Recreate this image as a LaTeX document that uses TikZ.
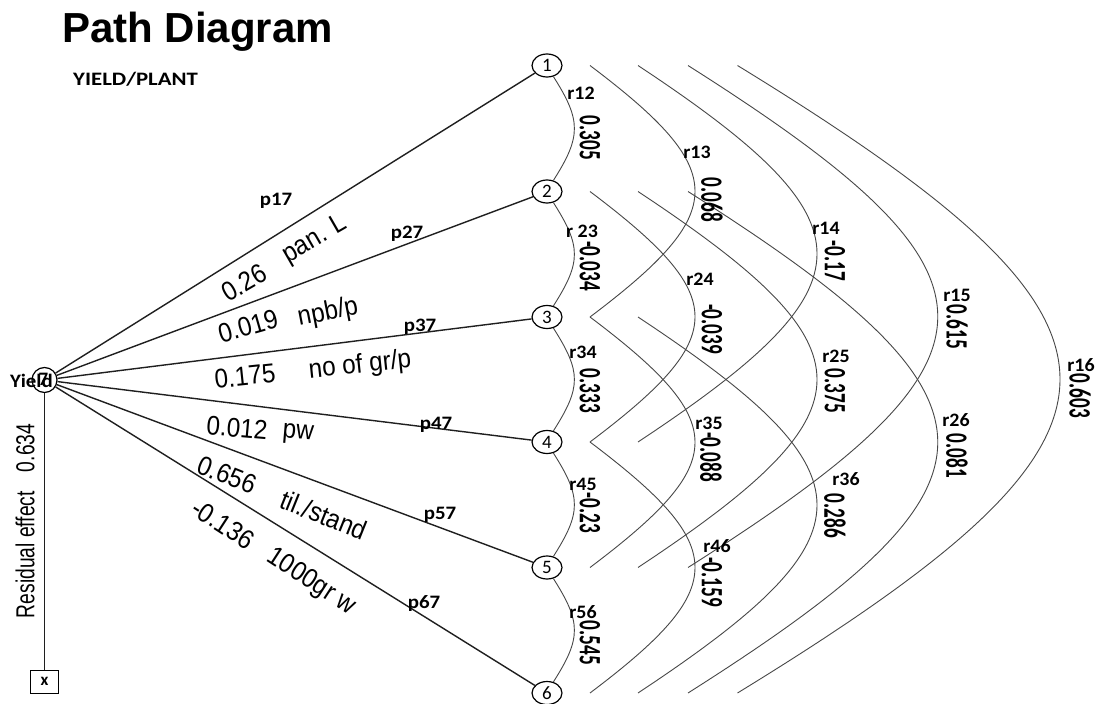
\documentclass[tikz,border=0pt]{standalone}
\usepackage{fontspec}
\usepackage{graphicx}
\setmainfont{Liberation Sans}
\newfontfamily\calfont{Carlito}
\usetikzlibrary{shapes.geometric,calc}
\newcommand{\sbx}[2]{\scalebox{#1}[1]{#2}}
\begin{document}
\begin{tikzpicture}[x=1pt,y=-1pt,
 nd/.style={ellipse, draw, line width=1.2pt, minimum width=30pt, minimum height=23pt, inner sep=0pt, font=\calfont\fontsize{19}{19}\selectfont},
 pathln/.style={line width=1.4pt, black!88},
 corr/.style={line width=0.9pt, black!72},
 el/.style={font=\fontsize{27}{27}\selectfont, inner sep=0pt},
 pl/.style={font=\calfont\bfseries\fontsize{19}{19}\selectfont, inner sep=0pt},
 rl/.style={font=\calfont\bfseries\fontsize{19}{19}\selectfont, inner sep=0pt},
 rv/.style={rotate=-90, font=\calfont\bfseries\fontsize{31}{31}\selectfont, inner sep=0pt},
]
\useasboundingbox[fill=white] (0,0) rectangle (1101,704);

% titles
\node[anchor=base west, inner sep=0pt, font=\bfseries\fontsize{42}{42}\selectfont] (title) at (62,42) {Path Diagram};
\node[anchor=base west, inner sep=0pt, font=\calfont\bfseries\fontsize{19}{19}\selectfont] (sub) at (73,85) {\sbx{1.2}{YIELD/PLANT}};

% variable nodes
\node[nd] (n1) at (547,65.5) {1};
\node[nd] (n2) at (547,191.5) {2};
\node[nd] (n3) at (547,317) {3};
\node[nd] (n4) at (547,442) {4};
\node[nd] (n5) at (547,567.5) {5};
\node[nd] (n6) at (547,693) {6};

% yield node
\node[circle, draw, line width=1.2pt, minimum size=25pt, inner sep=0pt] (n7) at (44.5,380) {};
\node[pl, anchor=base west] (ylab) at (10,387) {\sbx{1.1}{Yield}};
\node[rl] (n7num) at (43.5,379) {7};

% residual box
\node[draw, line width=1pt, minimum width=28pt, minimum height=23pt, inner sep=0pt, font=\calfont\bfseries\fontsize{17}{17}\selectfont] (bx) at (44.5,681.5) {x};
\draw[pathln] (n7) -- (bx);
\node[rotate=90, inner sep=0pt, font=\fontsize{26}{26}\selectfont] (res) at (25,521) {\sbx{0.74}{Residual effect\quad 0.634}};

% path lines
\foreach \k in {1,...,6} { \draw[pathln] (n7) -- (n\k); }

% path labels
\node[pl] (p17) at (276,201) {\sbx{1.1}{p17}};
\node[pl] (p27) at (407,234) {\sbx{1.1}{p27}};
\node[pl] (p37) at (420,327) {\sbx{1.1}{p37}};
\node[pl] (p47) at (436,425) {\sbx{1.1}{p47}};
\node[pl] (p57) at (440,515) {\sbx{1.1}{p57}};
\node[pl] (p67) at (424,604) {\sbx{1.1}{p67}};

\node[el, rotate=30] (v1) at (244,283) {\sbx{0.9}{0.26}};
\node[el, rotate=30] (t1) at (315,240) {\sbx{0.9}{pan. L}};
\node[el, rotate=16] (v2) at (248,326) {\sbx{0.9}{0.019}};
\node[el, rotate=11] (t2) at (328,313) {\sbx{0.9}{npb/p}};
\node[el, rotate=6] (v3) at (245,376) {\sbx{0.9}{0.175}};
\node[el, rotate=6] (t3) at (360,366) {\sbx{0.9}{no of gr/p}};
\node[el, rotate=-5] (v4) at (237,428) {\sbx{0.9}{0.012}};
\node[el, rotate=-5] (t4) at (298,434) {\sbx{0.9}{pw}};
\node[el, rotate=-22] (v5) at (227,475) {\sbx{0.9}{0.656}};
\node[el, rotate=-22] (t5) at (324,515) {\sbx{0.9}{til./stand}};
\node[el, rotate=-33] (v6) at (223,524) {\sbx{0.9}{-0.136}};
\node[el, rotate=-33] (t6) at (311,582) {\sbx{0.9}{1000gr w}};

% arc end coordinates
\foreach \k in {1,...,6} {
  \coordinate (qb\k) at ($(n\k)+(43,0)$);
  \coordinate (qc\k) at ($(n\k)+(91,0)$);
  \coordinate (qd\k) at ($(n\k)+(141,0)$);
  \coordinate (qe\k) at ($(n\k)+(190.5,0)$);
}

% adjacent correlations
\foreach \a/\b in {1/2,2/3,3/4,4/5,5/6} {
  \draw[corr] (n\a.-60) .. controls +(28,44) and +(28,-44) .. (n\b.60);
}
% span 2
\foreach \a/\b in {1/3,2/4,3/5,4/6} {
  \draw[corr] (qb\a) .. controls +(140,105.6) and +(140,-105.6) .. (qb\b);
}
% span 3
\foreach \a/\b in {1/4,2/5,3/6} {
  \draw[corr] (qc\a) .. controls +(238.7,158) and +(238.7,-158) .. (qc\b);
}
% span 4
\foreach \a/\b in {1/5,2/6} {
  \draw[corr] (qd\a) .. controls +(333,211) and +(333,-211) .. (qd\b);
}
% span 5
\draw[corr] (qe1) .. controls +(430,263.5) and +(430,-263.5) .. (qe6);

% correlation labels
\node[rl] (r12) at (581,93) {\sbx{1.05}{r12}};
\node[rv] (c12) at (590,138) {\sbx{0.62}{0.305}};
\node[rl] (r23) at (582,231) {\sbx{1.05}{r 23}};
\node[rv] (c23) at (590,266) {\sbx{0.62}{-0.034}};
\node[rl] (r34) at (583,352) {\sbx{1.05}{r34}};
\node[rv] (c34) at (590,391) {\sbx{0.62}{0.333}};
\node[rl] (r45) at (583,484) {\sbx{1.05}{r45}};
\node[rv] (c45) at (590,513) {\sbx{0.62}{-0.23}};
\node[rl] (r56) at (583,612) {\sbx{1.05}{r56}};
\node[rv] (c56) at (590,643) {\sbx{0.62}{0.545}};

\node[rl] (r13) at (697,152) {\sbx{1.05}{r13}};
\node[rv] (c13) at (712,200) {\sbx{0.62}{0.068}};
\node[rl] (r24) at (700,279) {\sbx{1.05}{r24}};
\node[rv] (c24) at (712,329) {\sbx{0.62}{-0.039}};
\node[rl] (r35) at (709,423) {\sbx{1.05}{r35}};
\node[rv] (c35) at (711,457) {\sbx{0.62}{-0.088}};
\node[rl] (r46) at (717,546) {\sbx{1.05}{r46}};
\node[rv] (c46) at (712,582) {\sbx{0.62}{-0.159}};

\node[rl] (r14) at (826,228) {\sbx{1.05}{r14}};
\node[rv] (c14) at (835,261) {\sbx{0.62}{-0.17}};
\node[rl] (r25) at (836,356) {\sbx{1.05}{r25}};
\node[rv] (c25) at (835,391) {\sbx{0.62}{0.375}};
\node[rl] (r36) at (846,479) {\sbx{1.05}{r36}};
\node[rv] (c36) at (835,516) {\sbx{0.62}{0.286}};

\node[rl] (r15) at (957,295) {\sbx{1.05}{r15}};
\node[rv] (c15) at (957,327) {\sbx{0.62}{0.615}};
\node[rl] (r26) at (956,420) {\sbx{1.05}{r26}};
\node[rv] (c26) at (957,456) {\sbx{0.62}{0.081}};

\node[rl] (r16) at (1081,365) {\sbx{1.05}{r16}};
\node[rv] (c16) at (1080,396) {\sbx{0.62}{0.603}};
\end{tikzpicture}
\end{document}
